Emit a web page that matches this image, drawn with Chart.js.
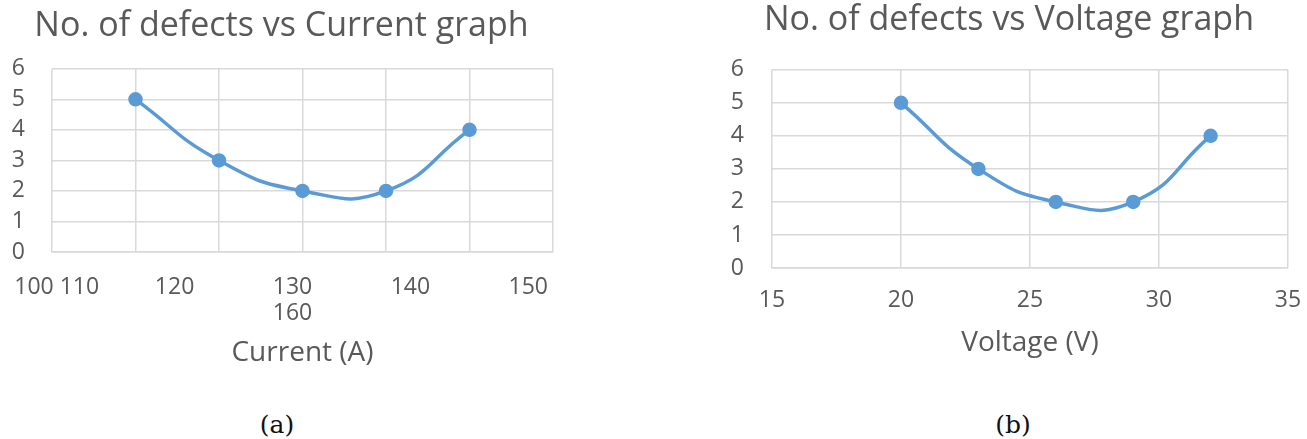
<!DOCTYPE html>
<html>
<head>
<meta charset="utf-8">
<script src="https://cdn.jsdelivr.net/npm/chart.js@4"></script>
<style>
  body { margin: 0; background: #fff; width: 1307px; height: 439px; position: relative; overflow: hidden; }
  .box { position: absolute; }
  .caption { position: absolute; top: 410px; font-family: "DejaVu Serif", serif; font-size: 25px; color: #111; transform: translateX(-50%); }
</style>
</head>
<body>
<div class="box" style="left:0;top:0;width:572px;height:372px;"><canvas id="currentChart"></canvas></div>
<div class="box" style="left:690px;top:0;width:617px;height:362px;"><canvas id="voltageChart"></canvas></div>
<div class="caption" style="left:277px;">(a)</div>
<div class="caption" style="left:1013px;">(b)</div>

<script>
// Data
const currentValues = [110, 120, 130, 140, 150];
const defectsByCurrent = [5, 3, 2, 2, 4];
const voltageValues = [20, 23, 26, 29, 32];
const defectsByVoltage = [5, 3, 2, 2, 4];

// Tick labels of the current axis as printed (they are shifted in the original)
const currentTickLabels = ["100 110", "120", ["130", "160"], "140", "150"];
const defectTicks = [0, 1, 2, 3, 4, 5, 6];

const lineBlue = "#5B9BD5";
const gridGrey = "#D9D9D9";
const textGrey = "#595959";
const uiFont = "'Open Sans', sans-serif";

Chart.defaults.font.family = uiFont;
Chart.defaults.color = textGrey;

function toPoints(xs, ys) {
  return xs.map((x, i) => ({ x: x, y: ys[i] }));
}

function lineDataset(xs, ys) {
  return {
    data: toPoints(xs, ys),
    showLine: true,
    tension: 0.5,
    borderColor: lineBlue,
    backgroundColor: lineBlue,
    borderWidth: 3.5,
    pointRadius: 5.5,
    pointHoverRadius: 5.5
  };
}

function yAxis(labelPadding) {
  return {
    min: 0,
    max: 6,
    afterBuildTicks: (s) => { s.ticks = defectTicks.map(v => ({ value: v })); },
    grid: { color: gridGrey, lineWidth: 1.5, drawTicks: false },
    border: { display: false },
    ticks: { padding: labelPadding, autoSkip: false, font: { size: 23 }, color: textGrey },
    afterFit: (s) => { s.width = 42; }
  };
}

function titleOpts(text, top, bottom) {
  return {
    display: true,
    text: text,
    color: textGrey,
    font: { size: 34, weight: "normal", lineHeight: 1.2 },
    padding: { top: top, bottom: bottom }
  };
}

function axisTitle(text) {
  return {
    display: true,
    text: text,
    color: textGrey,
    font: { size: 28, lineHeight: 1.2 },
    padding: { top: 0, bottom: 2 }
  };
}

// keep the end labels from pushing the plot area inwards
function fixedHeight(h) {
  return (s) => {
    s.height = h;
    s.paddingLeft = 0;
    s.paddingRight = 0;
  };
}

// (a) defects vs current
new Chart(document.getElementById("currentChart"), {
  type: "scatter",
  data: { datasets: [lineDataset(currentValues, defectsByCurrent)] },
  options: {
    responsive: true,
    maintainAspectRatio: false,
    animation: false,
    layout: { padding: { left: 10, right: 19, top: 0, bottom: 0 } },
    plugins: {
      legend: { display: false },
      tooltip: { enabled: false },
      title: titleOpts("No. of defects vs Current graph", 6, 22)
    },
    scales: {
      x: {
        type: "linear",
        min: 100,
        max: 160,
        ticks: { stepSize: 10, display: false },
        grid: { color: gridGrey, lineWidth: 1.5, drawTicks: false },
        border: { color: gridGrey, width: 1.5 },
        afterFit: fixedHeight(0)
      },
      xLabels: {
        type: "linear",
        position: "bottom",
        min: -0.04,
        max: 4.21,
        afterBuildTicks: (s) => { s.ticks = currentTickLabels.map((_, i) => ({ value: i })); },
        ticks: {
          padding: 14,
          maxRotation: 0,
          autoSkip: false,
          font: { size: 23, lineHeight: 1.15 },
          color: textGrey,
          callback: (v) => currentTickLabels[v]
        },
        grid: { display: false },
        border: { display: false },
        title: axisTitle("Current (A)"),
        afterFit: fixedHeight(120)
      },
      y: yAxis(27)
    }
  }
});

// (b) defects vs voltage
new Chart(document.getElementById("voltageChart"), {
  type: "scatter",
  data: { datasets: [lineDataset(voltageValues, defectsByVoltage)] },
  options: {
    responsive: true,
    maintainAspectRatio: false,
    animation: false,
    layout: { padding: { left: 40, right: 19, top: 0, bottom: 0 } },
    plugins: {
      legend: { display: false },
      tooltip: { enabled: false },
      title: titleOpts("No. of defects vs Voltage graph", 0, 29)
    },
    scales: {
      x: {
        type: "linear",
        min: 15,
        max: 35,
        ticks: { stepSize: 5, padding: 19, maxRotation: 0, font: { size: 23 }, color: textGrey },
        grid: { color: gridGrey, lineWidth: 1.5, drawTicks: false },
        border: { color: gridGrey, width: 1.5 },
        title: axisTitle("Voltage (V)"),
        afterFit: fixedHeight(94)
      },
      y: yAxis(28)
    }
  }
});
</script>
</body>
</html>
